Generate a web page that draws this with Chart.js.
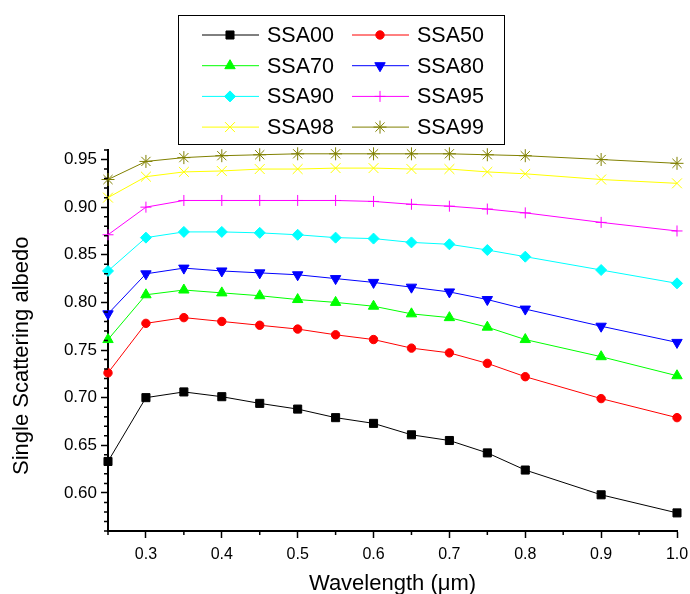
<!DOCTYPE html>
<html>
<head>
<meta charset="utf-8">
<script src="https://cdn.jsdelivr.net/npm/chart.js"></script>
<style>
  body { margin: 0; background: #fff; }
  #wrap { width: 690px; height: 594px; }
</style>
</head>
<body>
<div id="wrap"><canvas id="graficoSSA"></canvas></div>
<script>
// wavelength (um) and single scattering albedo
const wavelength = [0.25, 0.3, 0.35, 0.4, 0.45, 0.5, 0.55, 0.6, 0.65, 0.7, 0.75, 0.8, 0.9, 1.0];
const ssa00 = [0.633, 0.700, 0.706, 0.701, 0.694, 0.688, 0.679, 0.673, 0.661, 0.655, 0.642, 0.624, 0.598, 0.579];
const ssa50 = [0.726, 0.778, 0.784, 0.780, 0.776, 0.772, 0.766, 0.761, 0.752, 0.747, 0.736, 0.722, 0.699, 0.679];
const ssa70 = [0.761, 0.808, 0.813, 0.810, 0.807, 0.803, 0.800, 0.796, 0.788, 0.784, 0.774, 0.761, 0.743, 0.723];
const ssa80 = [0.788, 0.830, 0.836, 0.833, 0.831, 0.829, 0.825, 0.821, 0.816, 0.811, 0.803, 0.793, 0.775, 0.758];
const ssa90 = [0.833, 0.868, 0.874, 0.874, 0.873, 0.871, 0.868, 0.867, 0.863, 0.861, 0.855, 0.848, 0.834, 0.820];
const ssa95 = [0.871, 0.900, 0.907, 0.907, 0.907, 0.907, 0.907, 0.906, 0.903, 0.901, 0.898, 0.894, 0.884, 0.875];
const ssa98 = [0.910, 0.932, 0.937, 0.938, 0.940, 0.940, 0.941, 0.941, 0.940, 0.940, 0.937, 0.935, 0.929, 0.925];
const ssa99 = [0.929, 0.948, 0.952, 0.954, 0.955, 0.956, 0.956, 0.956, 0.956, 0.956, 0.955, 0.954, 0.950, 0.946];

const xTicks = [0.3, 0.4, 0.5, 0.6, 0.7, 0.8, 0.9, 1.0];
const yTicks = [0.60, 0.65, 0.70, 0.75, 0.80, 0.85, 0.90, 0.95];

document.addEventListener('DOMContentLoaded', function(){
    Chart.defaults.font.family = '"Liberation Sans", Arial, sans-serif';
    Chart.defaults.color = '#000';

    const serie = (label, values, color, style, radius, extra) => Object.assign({
        label: label,
        data: values.map((v, i) => ({x: wavelength[i], y: v})),
        borderColor: color,
        backgroundColor: color,
        pointBackgroundColor: color,
        pointBorderColor: color,
        borderWidth: 1,
        pointStyle: style,
        pointRadius: radius,
        pointBorderWidth: 1,
        clip: false
    }, extra || {});

    //minor ticks, Origin style
    const minorTicks = {
        id: 'minorTicks',
        afterDraw(chart){
            const {ctx, scales: {x, y}} = chart;
            ctx.save();
            ctx.strokeStyle = '#000';
            ctx.lineWidth = 1.5;
            ctx.beginPath();
            for (let k = 56; k <= 96; k++) {
                if (k % 5 === 0) continue;
                const py = y.getPixelForValue(k / 100);
                ctx.moveTo(x.left, py);
                ctx.lineTo(x.left - 4, py);
            }
            for (let k = 25; k <= 95; k += 10) {
                const px = x.getPixelForValue(k / 100);
                ctx.moveTo(px, y.bottom);
                ctx.lineTo(px, y.bottom + 4);
            }
            ctx.stroke();
            ctx.restore();
        }
    };

    //boxed legend in two columns
    const legendBox = {
        id: 'legendBox',
        afterDraw(chart){
            const ctx = chart.ctx;
            ctx.save();
            ctx.fillStyle = '#fff';
            ctx.fillRect(178, 15, 326, 129);
            ctx.strokeStyle = '#000';
            ctx.lineWidth = 1;
            ctx.strokeRect(178.5, 15.5, 326, 129);
            ctx.font = '21.5px "Liberation Sans", Arial, sans-serif';
            ctx.textBaseline = 'middle';
            chart.data.datasets.forEach((ds, i) => {
                const x0 = (i % 2) ? 352 : 202;
                const y = 35 + Math.floor(i / 2) * 30.7;
                ctx.strokeStyle = ds.borderColor;
                ctx.fillStyle = ds.borderColor;
                ctx.lineWidth = 1;
                ctx.beginPath();
                ctx.moveTo(x0, y);
                ctx.lineTo(x0 + 57, y);
                ctx.stroke();
                Chart.helpers.drawPoint(ctx, {
                    pointStyle: ds.pointStyle,
                    radius: ds.pointRadius,
                    rotation: ds.pointRotation || 0,
                    borderWidth: ds.pointBorderWidth
                }, x0 + 28, y);
                ctx.fillStyle = '#000';
                ctx.fillText(ds.label, x0 + 65, y + 1);
            });
            ctx.restore();
        }
    };

    const ctx = document.getElementById('graficoSSA').getContext('2d');
    new Chart(ctx, {
        type: 'line',
        data: {
            datasets: [
                serie('SSA00', ssa00, '#000000', 'rect', 5.7),
                serie('SSA50', ssa50, '#ff0000', 'circle', 4.2),
                serie('SSA70', ssa70, '#00ff00', 'triangle', 6),
                serie('SSA80', ssa80, '#0000ff', 'triangle', 6, {pointRotation: 180}),
                serie('SSA90', ssa90, '#00ffff', 'rectRot', 5.5),
                serie('SSA95', ssa95, '#ff00ff', 'cross', 5.5),
                serie('SSA98', ssa98, '#ffff00', 'crossRot', 7),
                serie('SSA99', ssa99, '#808000', 'star', 6.5)
            ]
        },
        options: {
            responsive: true,
            maintainAspectRatio: false,
            animation: false,
            layout: { padding: { top: 150, right: 13, left: 0, bottom: 0 } },
            plugins: {
                legend: { display: false },
                tooltip: { enabled: false }
            },
            scales: {
                x: {
                    type: 'linear',
                    min: 0.25,
                    max: 1.0,
                    afterBuildTicks: s => { s.ticks = xTicks.map(v => ({value: v})); },
                    afterFit: s => { s.height = 63; s.paddingLeft = 0; s.paddingRight = 13; },
                    ticks: {
                        font: { size: 16 },
                        padding: 7,
                        maxRotation: 0,
                        callback: v => v.toFixed(1)
                    },
                    grid: {
                        drawOnChartArea: false,
                        tickLength: 7,
                        tickColor: '#000',
                        tickWidth: 1.5
                    },
                    border: { color: '#000', width: 2 },
                    title: {
                        display: true,
                        text: 'Wavelength (\u03bcm)',
                        font: { size: 22 },
                        padding: { top: 0, bottom: -3 }
                    }
                },
                y: {
                    min: 0.56,
                    max: 0.96,
                    afterBuildTicks: s => { s.ticks = yTicks.map(v => ({value: v})); },
                    afterFit: s => { s.width = 108; },
                    ticks: {
                        font: { size: 17 },
                        padding: 4,
                        callback: v => v.toFixed(2)
                    },
                    grid: {
                        drawOnChartArea: false,
                        tickLength: 7,
                        tickColor: '#000',
                        tickWidth: 1.5
                    },
                    border: { color: '#000', width: 2 },
                    title: {
                        display: true,
                        text: 'Single Scattering albedo\u00a0\u00a0\u00a0\u00a0\u00a0',
                        font: { size: 22 },
                        padding: { top: 9, bottom: 0 }
                    }
                }
            }
        },
        plugins: [minorTicks, legendBox]
    });
});
</script>
</body>
</html>
